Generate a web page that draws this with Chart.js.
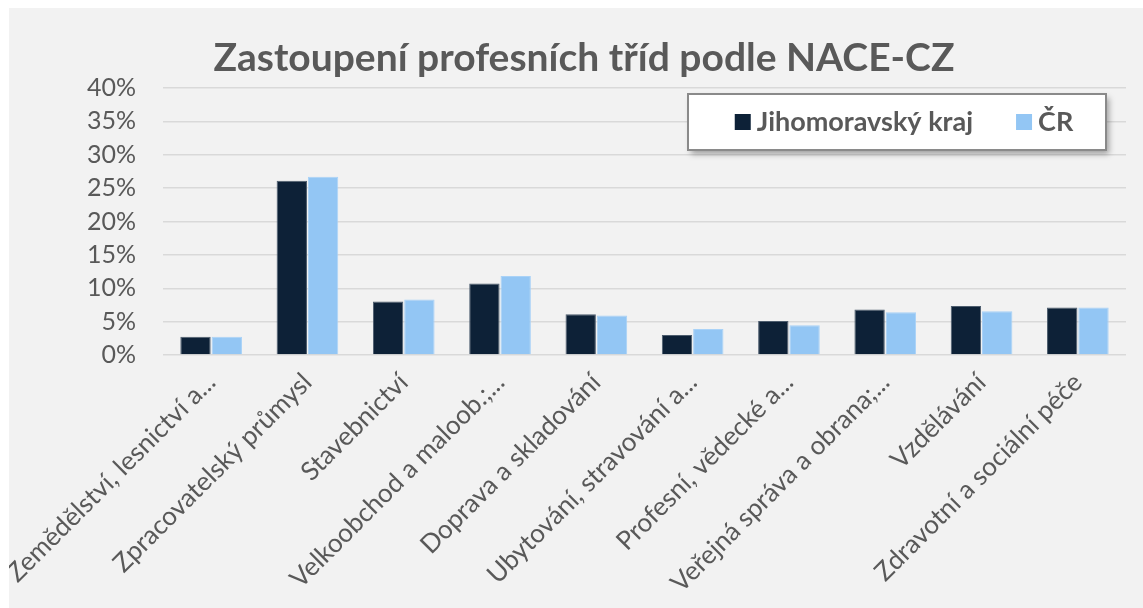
<!DOCTYPE html>
<html lang="cs">
<head>
  <meta charset="UTF-8">
  <title>Zastoupení profesních tříd podle NACE-CZ</title>
  <script src="https://cdn.jsdelivr.net/npm/chart.js"></script>
  <style>
    body {
      margin: 0;
      background: #ffffff;
    }
    .panel {
      position: absolute;
      left: 9px;
      top: 8px;
      width: 1134px;
      height: 600px;
      background: #f2f2f2;
    }
  </style>
</head>
<body>
  <div class="panel">
    <canvas id="chart" width="1134" height="600"></canvas>
  </div>

  <script>
    // Data (percent)
    const categories = [
      'Zemědělství, lesnictví a...',
      'Zpracovatelský průmysl',
      'Stavebnictví',
      'Velkoobchod a maloob.;...',
      'Doprava a skladování',
      'Ubytování, stravování a...',
      'Profesní, vědecké a...',
      'Veřejná správa a obrana;...',
      'Vzdělávání',
      'Zdravotní a sociální péče'
    ];
    const jihomoravsky = [2.75, 26.1, 8.0, 10.7, 6.1, 3.0, 5.1, 6.8, 7.35, 7.1];
    const cr = [2.75, 26.7, 8.3, 11.85, 5.9, 3.9, 4.45, 6.4, 6.55, 7.1];
    const yTicks = [0, 5, 10, 15, 20, 25, 30, 35, 40];

    const titleText = 'Zastoupení profesních tříd podle NACE-CZ';
    const textColor = '#595959';
    const fontFamily = 'Lato, "Open Sans", sans-serif';

    // title drawn by hand so it can sit slightly right of centre like the original
    const titlePlugin = {
      id: 'titlePlugin',
      afterDraw(chart) {
        const ctx = chart.ctx;
        ctx.save();
        ctx.fillStyle = textColor;
        ctx.font = 'bold 39px ' + fontFamily;
        ctx.textAlign = 'center';
        ctx.textBaseline = 'middle';
        ctx.fillText(titleText, 575, 50);
        ctx.restore();
      }
    };

    // boxed legend with shadow, inside the plot area
    const boxLegend = {
      id: 'boxLegend',
      afterDraw(chart) {
        const ctx = chart.ctx;
        const bx = 679, by = 86, bw = 418, bh = 56;
        ctx.save();
        ctx.shadowColor = 'rgba(0,0,0,0.35)';
        ctx.shadowBlur = 6;
        ctx.shadowOffsetX = 3;
        ctx.shadowOffsetY = 4;
        ctx.fillStyle = '#ffffff';
        ctx.fillRect(bx, by, bw, bh);
        ctx.shadowColor = 'transparent';
        ctx.strokeStyle = '#8a8a8a';
        ctx.lineWidth = 2;
        ctx.strokeRect(bx, by, bw, bh);

        ctx.font = 'bold 27px ' + fontFamily;
        ctx.textBaseline = 'middle';
        const sq = 16, gapText = 6, gapItem = 43;
        const items = chart.data.datasets.map(ds => ({
          label: ds.label, color: ds.backgroundColor,
          w: sq + gapText + ctx.measureText(ds.label).width
        }));
        let total = items.reduce((s, it) => s + it.w, 0) + gapItem * (items.length - 1);
        let x = bx + (bw - total) / 2 + 7;
        const cy = by + bh / 2;
        items.forEach(it => {
          ctx.fillStyle = it.color;
          ctx.fillRect(x, cy - sq / 2, sq, sq);
          ctx.fillStyle = textColor;
          ctx.fillText(it.label, x + sq + gapText, cy);
          x += it.w + gapItem;
        });
        ctx.restore();
      }
    };

    const ctx = document.getElementById('chart').getContext('2d');
    new Chart(ctx, {
      type: 'bar',
      data: {
        labels: categories,
        datasets: [
          {
            label: 'Jihomoravský kraj',
            data: jihomoravsky,
            backgroundColor: '#0d2137',
            borderColor: '#4d5d6e',
            borderWidth: 1,
            categoryPercentage: 0.65,
            barPercentage: 0.97
          },
          {
            label: 'ČR',
            data: cr,
            backgroundColor: '#93c6f4',
            borderColor: '#a9d2f7',
            borderWidth: 1,
            categoryPercentage: 0.65,
            barPercentage: 0.97
          }
        ]
      },
      options: {
        responsive: false,
        animation: false,
        layout: {
          padding: { top: 80, left: 0, right: 17, bottom: 0 }
        },
        plugins: {
          legend: { display: false },
          title: { display: false },
          tooltip: { enabled: false }
        },
        scales: {
          x: {
            grid: { display: false },
            border: { display: false },
            ticks: {
              color: textColor,
              font: { family: fontFamily, size: 26 },
              minRotation: 45,
              maxRotation: 45,
              autoSkip: false,
              padding: 4
            },
            afterFit(scale) {
              scale.paddingLeft = 0;
              scale.paddingRight = 0;
              scale.height = 253;
            }
          },
          y: {
            min: 0,
            max: 40,
            afterBuildTicks(scale) {
              scale.ticks = yTicks.map(v => ({ value: v }));
            },
            grid: { color: '#d9d9d9', lineWidth: 1.5, drawTicks: false },
            border: { display: false },
            ticks: {
              color: textColor,
              font: { family: fontFamily, size: 25 },
              padding: 27,
              callback: v => v + '%'
            },
            afterFit(scale) {
              scale.width = 154;
            }
          }
        }
      },
      plugins: [titlePlugin, boxLegend]
    });
  </script>
</body>
</html>
